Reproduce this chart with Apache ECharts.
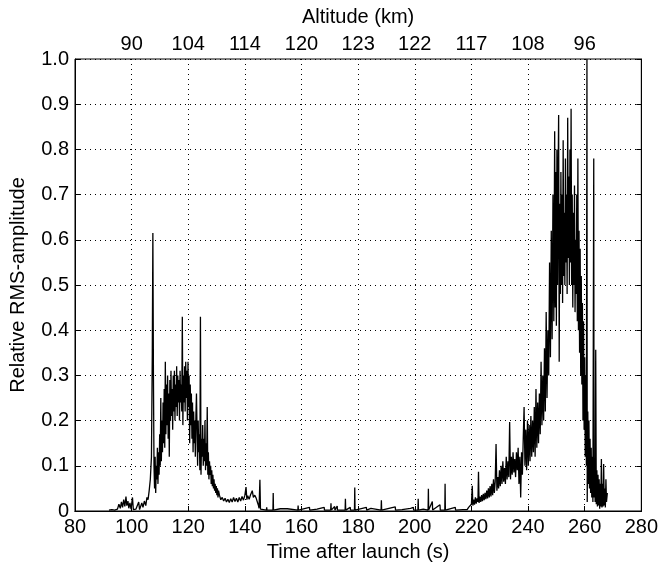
<!DOCTYPE html>
<html>
<head>
<meta charset="utf-8">
<script src="https://cdn.jsdelivr.net/npm/echarts@6/dist/echarts.min.js"></script>
<style>
  html, body { margin: 0; padding: 0; background: #fff; }
  #conMain { width: 661px; height: 567px; }
</style>
</head>
<body>
<div id="conMain"></div>
<script>
// time ticks (s) on the bottom axis and altitude labels shown above them
var timeTicks = [80, 100, 120, 140, 160, 180, 200, 220, 240, 260, 280];
var altitudeTimes = [100, 120, 140, 160, 180, 200, 220, 240, 260];
var altitudeLabels = ['90', '104', '114', '120', '123', '122', '117', '108', '96'];

// [time, amplitude]
var quietStart = [
  [92,0.002],[93,0.003],[94,0.002],[95,0.004],[95.5,0.015],[96,0.006],[96.4,0.02],[96.8,0.008],
  [97.2,0.025],[97.6,0.01],[98,0.032],[98.3,0.012],[98.7,0.022],[99,0.006],[99.4,0.018],[99.8,0.004],
  [100.3,0.03],[100.6,0.003],[101,0.002],[101.5,0.004],[102,0.002],[102.5,0.02],[102.8,0.003],
  [103.2,0.006],[103.6,0.018],[104,0.008],[104.5,0.022],[105,0.012],[105.4,0.03],[105.8,0.025],
  [106.2,0.045],[106.6,0.07],[107,0.12],[107.3,0.35],[107.5,0.615],[107.7,0.3],[107.9,0.1]
];
var burstOne = [
  [108.1,0.05],[108.3,0.12],[108.5,0.04],[108.7,0.1],[108.9,0.07],[109.1,0.14],[109.3,0.06],[109.5,0.13],
  [109.7,0.08],[109.9,0.17],[110.1,0.1],[110.3,0.25],[110.5,0.11],[110.7,0.2],[110.9,0.13],[111.1,0.24],
  [111.3,0.15],[111.5,0.27],[111.7,0.14],[111.9,0.33],[112.1,0.17],[112.3,0.28],[112.5,0.19],[112.7,0.3],
  [112.9,0.16],[113.1,0.26],[113.3,0.12],[113.5,0.29],[113.7,0.2],[113.9,0.31],[114.1,0.21],[114.3,0.27],
  [114.5,0.18],[114.7,0.3],[114.9,0.22],[115.1,0.31],[115.3,0.2],[115.5,0.28],[115.7,0.23],[115.9,0.32],
  [116.1,0.21],[116.3,0.3],[116.5,0.24],[116.7,0.29],[116.9,0.2],[117.1,0.31],[117.3,0.24],[117.5,0.28],
  [117.7,0.22],[117.9,0.43],[118.1,0.19],[118.3,0.3],[118.5,0.24],[118.7,0.32],[118.9,0.22],[119.1,0.33],
  [119.3,0.25],[119.5,0.31],[119.7,0.2],[119.9,0.33],[120.1,0.23],[120.3,0.3],[120.5,0.15],[120.7,0.28],
  [120.9,0.19],[121.1,0.26],[121.3,0.16],[121.5,0.24],[121.7,0.13],[121.9,0.22],[122.1,0.15],[122.3,0.2],
  [122.5,0.12],[122.7,0.21],[122.9,0.26],[123.1,0.18],[123.3,0.1],[123.5,0.2],[123.7,0.13],[123.9,0.17],
  [124.1,0.09],[124.3,0.43],[124.5,0.08],[124.7,0.16],[124.9,0.12],[125.1,0.19],[125.3,0.1],[125.5,0.16],
  [125.7,0.11],[125.9,0.2],[126.1,0.09],[126.3,0.15],[126.5,0.1],[126.7,0.23],[126.9,0.08],[127.1,0.13],
  [127.3,0.07],[127.5,0.11],[127.7,0.08],[127.9,0.1],[128.1,0.06],[128.3,0.09],[128.5,0.055],[128.7,0.08],
  [128.9,0.05],[129.1,0.07],[129.3,0.045],[129.5,0.06],[129.7,0.04],[129.9,0.055],[130.1,0.035],
  [130.3,0.05],[130.5,0.03],[130.7,0.045]
];
var plateau = [
  [131,0.035],[131.5,0.025],[132,0.03],[132.5,0.022],[133,0.028],[133.5,0.02],[134,0.026],[134.5,0.019],
  [135,0.027],[135.5,0.02],[136,0.03],[136.5,0.021],[137,0.028],[137.5,0.02],[138,0.03],[138.5,0.022],
  [139,0.032],[139.5,0.024],[140,0.035],[140.4,0.053],[140.7,0.025],[141,0.034],[141.5,0.026],[142,0.036],
  [142.6,0.045],[143,0.03],[143.5,0.035],[144,0.028],[144.4,0.02],[144.8,0.012],[145,0.006],[145.3,0.069],
  [145.5,0.004],[146,0.002]
];
var quietMid = [
  [147.6,0.002],[147.7,0.008],[147.8,0.002],[149.9,0.002],[150,0.04],[150.1,0.002],[152.5,0.005],
  [152.6,0.002],[155,0.005],[155.1,0.002],[158.7,0.002],[158.8,0.012],[158.9,0.002],[162.8,0.008],
  [162.9,0.002],[165.5,0.004],[165.6,0.002],[168,0.008],[168.1,0.002],[170.3,0.002],[170.4,0.017],
  [170.5,0.002],[171.7,0.01],[171.8,0.002],[172.6,0.011],[172.7,0.002],[175.4,0.002],[175.5,0.027],
  [175.6,0.002],[177.2,0.008],[177.3,0.002],[178.7,0.002],[178.8,0.052],[178.9,0.002],[182.9,0.008],
  [183,0.002],[184.5,0.006],[184.6,0.002],[188.1,0.002],[188.2,0.024],[188.3,0.002],[193.1,0.009],
  [193.2,0.002],[195.5,0.003],[198.5,0.006],[198.6,0.002],[199.5,0.008],[199.6,0.002],[201.1,0.002],
  [201.2,0.027],[201.3,0.002],[203,0.004],[204.7,0.002],[204.8,0.049],[204.9,0.002],[206.2,0.021],
  [206.3,0.002],[208.9,0.014],[209,0.002],[210.6,0.002],[210.7,0.06],[210.8,0.002],[214.3,0.008],
  [214.4,0.002],[217,0.003],[218.5,0.003]
];
var burstTwo = [
  [219,0.008],[219.5,0.005],[220,0.015],[220.3,0.056],[220.5,0.012],[220.8,0.025],[221.1,0.014],
  [221.4,0.03],[221.7,0.016],[222,0.028],[222.3,0.02],[222.5,0.087],[222.7,0.018],[223,0.032],[223.3,0.02],
  [223.6,0.035],[223.9,0.022],[224.2,0.038],[224.5,0.024],[224.8,0.04],[225.1,0.026],[225.4,0.045],
  [225.7,0.028],[226,0.05],[226.3,0.03],[226.6,0.055],[226.9,0.032],[227.2,0.06],[227.5,0.035],[227.8,0.07],
  [228.1,0.04],[228.4,0.065],[228.7,0.148],[229,0.045],[229.3,0.075],[229.6,0.05],[229.9,0.09],
  [230.2,0.055],[230.5,0.1],[230.8,0.06],[231.1,0.11],[231.4,0.065],[231.7,0.095],[232,0.06],[232.3,0.12],
  [232.6,0.07],[232.9,0.11],[233.2,0.075],[233.5,0.197],[233.8,0.07],[234.1,0.12],[234.4,0.08],[234.7,0.13],
  [235,0.085],[235.3,0.115],[235.6,0.075],[235.9,0.13],[236.2,0.09],[236.5,0.14],[236.8,0.06],[237.1,0.12],
  [237.4,0.03],[237.7,0.13],[238,0.08],[238.3,0.16],[238.6,0.23],[238.9,0.1],[239.2,0.18],[239.5,0.09],
  [239.8,0.2],[240.1,0.1],[240.4,0.19],[240.7,0.11],[241,0.21],[241.3,0.12],[241.6,0.2],[241.9,0.13],
  [242.2,0.23],[242.5,0.12],[242.8,0.27],[243.1,0.14],[243.4,0.24],[243.7,0.15],[244,0.26],[244.3,0.17],
  [244.6,0.33],[244.9,0.19],[245.2,0.3],[245.5,0.2],[245.8,0.36],[246.1,0.22],[246.4,0.44],[246.7,0.25],
  [247,0.4],[247.3,0.3],[247.6,0.55],[247.9,0.34],[248.2,0.62],[248.5,0.38],[248.8,0.7],[249.1,0.42],
  [249.4,0.84],[249.6,0.45],[249.8,0.75],[250,0.41],[250.2,0.8],[250.4,0.5],[250.6,0.72],[250.8,0.876],
  [251,0.33],[251.2,0.68],[251.4,0.48],[251.6,0.75],[251.8,0.5],[252,0.7],[252.2,0.46],[252.4,0.82],
  [252.6,0.52],[252.8,0.66],[253,0.5],[253.2,0.78],[253.4,0.55],[253.6,0.7],[253.8,0.48],[254,0.87],
  [254.2,0.56],[254.4,0.74],[254.6,0.5],[254.8,0.8],[255,0.55],[255.2,0.89],[255.4,0.5],[255.6,0.7],
  [255.8,0.45],[256,0.66],[256.2,0.5],[256.4,0.72],[256.6,0.44],[256.8,0.6],[257,0.48],[257.2,0.7],
  [257.4,0.42],[257.6,0.78],[257.8,0.4],[258,0.62],[258.2,0.35],[258.4,0.58],[258.6,0.3],[258.8,0.52],
  [259,0.28],[259.2,0.46],[259.4,0.2],[259.6,0.42],[259.8,0.18],[260,0.34],[260.2,0.12],[260.4,0.3],
  [260.6,0.1],[260.8,1.0],[260.9,0.02]
];
var tail = [
  [261.1,0.22],[261.3,0.06],[261.5,0.2],[261.7,0.05],[261.9,0.16],[262.1,0.04],[262.3,0.14],[262.5,0.03],
  [262.7,0.12],[262.9,0.02],[263.2,0.78],[263.3,0.03],[263.5,0.1],[263.7,0.02],[263.9,0.357],[264.1,0.015],
  [264.3,0.09],[264.5,0.01],[264.7,0.08],[264.9,0.012],[265.1,0.07],[265.3,0.005],[265.5,0.06],[265.7,0.01],
  [265.9,0.115],[266.1,0.008],[266.3,0.06],[266.5,0.01],[266.7,0.104],[266.9,0.012],[267.1,0.05],
  [267.3,0.008],[267.5,0.07],[267.7,0.02],[268,0.04]
];

var rmsData = quietStart.concat(burstOne, plateau, quietMid, burstTwo, tail);

var font = "'Liberation Sans', Arial, sans-serif";
var dotted = { show: true, lineStyle: { color: '#000', type: [1, 4], width: 1 } };

var myChart = echarts.init(document.getElementById('conMain'));
var option = {
  backgroundColor: '#fff',
  animation: false,
  textStyle: { fontFamily: font },
  grid: { left: 74, right: 15, top: 59, bottom: 55, show: true, borderColor: '#000', borderWidth: 1 },
  xAxis: [
    {
      type: 'value', min: timeTicks[0], max: timeTicks[timeTicks.length - 1], interval: 20,
      name: 'Time after launch (s)', nameLocation: 'middle', nameGap: 31,
      nameTextStyle: { fontSize: 20, color: '#000', fontFamily: font },
      axisLine: { lineStyle: { color: '#000' } },
      axisTick: { inside: true, length: 5, lineStyle: { color: '#000' } },
      axisLabel: { fontSize: 20, color: '#000', margin: 6, fontFamily: font },
      splitLine: dotted
    },
    {
      type: 'value', position: 'top', min: timeTicks[0], max: timeTicks[timeTicks.length - 1], interval: 20,
      name: 'Altitude (km)', nameLocation: 'middle', nameGap: 32,
      nameTextStyle: { fontSize: 20, color: '#000', fontFamily: font },
      axisLine: { lineStyle: { color: '#000' } },
      axisTick: { show: false },
      axisLabel: {
        fontSize: 20, color: '#000', margin: 5, fontFamily: font,
        formatter: function (v) {
          var i = altitudeTimes.indexOf(v);
          return i >= 0 ? altitudeLabels[i] : '';
        }
      },
      splitLine: { show: false }
    }
  ],
  yAxis: [
    {
      type: 'value', min: 0, max: 1, interval: 0.1,
      name: 'Relative RMS-amplitude', nameLocation: 'middle', nameGap: 47,
      nameTextStyle: { fontSize: 20, color: '#000', fontFamily: font },
      axisLine: { show: true, lineStyle: { color: '#000' } },
      axisTick: { show: true, inside: true, length: 5, lineStyle: { color: '#000' } },
      axisLabel: {
        fontSize: 20, color: '#000', margin: 6, fontFamily: font,
        formatter: function (v) { return v === 0 ? '0' : v.toFixed(1); }
      },
      splitLine: dotted
    },
    {
      type: 'value', position: 'right', min: 0, max: 1, interval: 0.1,
      axisLine: { show: true, lineStyle: { color: '#000' } },
      axisTick: { show: true, inside: true, length: 5, lineStyle: { color: '#000' } },
      axisLabel: { show: false },
      splitLine: { show: false }
    }
  ],
  series: [
    {
      name: 'RMS', type: 'line', xAxisIndex: 0, yAxisIndex: 0,
      data: rmsData, showSymbol: false, symbol: 'none',
      lineStyle: { color: '#000', width: 1.3 },
      clip: true
    }
  ]
};
myChart.setOption(option);
</script>
</body>
</html>
